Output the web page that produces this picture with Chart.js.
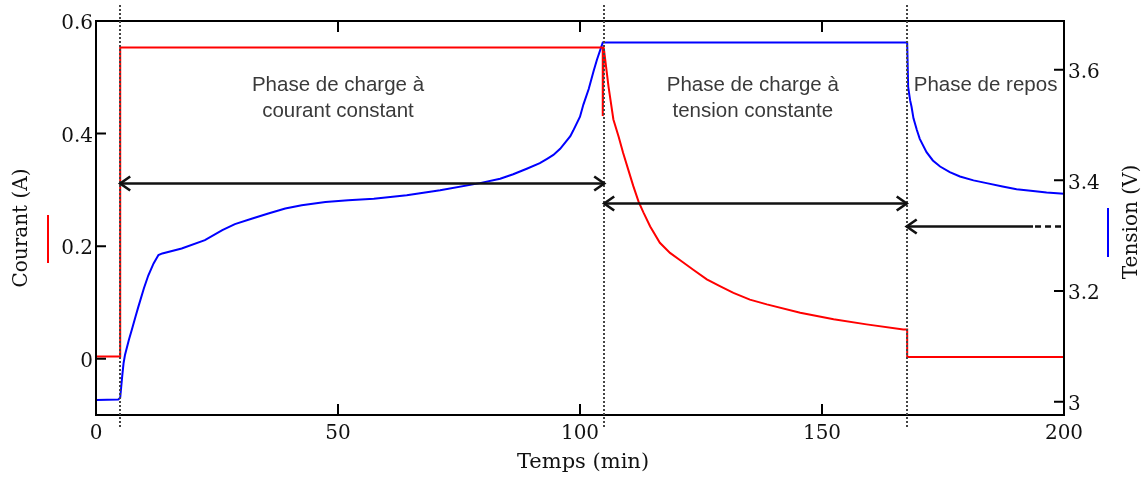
<!DOCTYPE html>
<html><head><meta charset="utf-8">
<script src="https://cdn.jsdelivr.net/npm/chart.js@4/dist/chart.umd.min.js"></script>
<style>html,body{margin:0;padding:0;background:#fff}</style>
</head><body>
<canvas id="c" width="1145" height="479"></canvas>
<script>
// ---- Data ----
const tempsCourant = [0, 5, 5, 104.7, 104.7, 104.9, 105.9, 106.9, 108, 108.9, 110, 111, 112.1, 113.1, 114.5, 116.5, 118.6, 120.7, 123.4, 126.2, 128.9, 131.7, 135.1, 138.6, 145.5, 152.4, 159.2, 166.8, 167.6, 167.6, 200];
const courant      = [0.004, 0.004, 0.553, 0.553, 0.431, 0.553, 0.483, 0.425, 0.394, 0.366, 0.335, 0.307, 0.279, 0.26, 0.235, 0.206, 0.188, 0.175, 0.158, 0.141, 0.129, 0.117, 0.105, 0.0965, 0.0818, 0.07, 0.061, 0.052, 0.052, 0.003, 0.003];
const tempsTension = [0, 4.6, 5.0, 5.4, 5.7, 6, 6.8, 7.4, 8.2, 8.7, 9.9, 10.8, 11.9, 12.9, 13.7, 17.7, 22.5, 26.1, 28.7, 32.3, 35.6, 39.1, 42.5, 47.4, 52.1, 57.4, 64.2, 71.1, 79.3, 83.5, 86.2, 89, 91.7, 93.2, 94.5, 95.9, 98.0, 98.6, 100, 100.7, 101.8, 102.8, 103.5, 104.7,
                      167.6, 167.8, 168.2, 168.5, 168.9, 169.6, 170.2, 171.6, 172.9, 174.4, 176.4, 178.5, 181.3, 184, 187.3, 190.2, 193.6, 196.4, 200];
const tension      = [3.003, 3.004, 3.007, 3.045, 3.070, 3.085, 3.112, 3.130, 3.155, 3.170, 3.205, 3.228, 3.250, 3.265, 3.268, 3.277, 3.292, 3.310, 3.321, 3.331, 3.340, 3.349, 3.355, 3.361, 3.364, 3.367, 3.373, 3.382, 3.395, 3.403, 3.411, 3.421, 3.431, 3.439, 3.446, 3.457, 3.480, 3.490, 3.515, 3.537, 3.565, 3.597, 3.618, 3.649,
                      3.649, 3.569, 3.545, 3.533, 3.512, 3.491, 3.475, 3.451, 3.436, 3.425, 3.415, 3.407, 3.400, 3.395, 3.389, 3.384, 3.381, 3.378, 3.376];
const xTicks = [0, 50, 100, 150, 200];
const courantTicks = [0, 0.2, 0.4, 0.6];
const tensionTicks = [3, 3.2, 3.4, 3.6];
const phaseLimits = [5, 105, 167.5];
const phaseTexts = [["Phase de charge à", "courant constant"], ["Phase de charge à", "tension constante"], ["Phase de repos"]];
const xTitle = "Temps (min)";
const yTitle = "Courant (A)";
const y1Title = "Tension (V)";

const serif = "'DejaVu Serif', serif";
const sans = "'Liberation Sans', Arial, sans-serif";

const decor = {
  id: 'decor',
  afterDatasetsDraw(chart) {
    const ctx = chart.ctx, a = chart.chartArea;
    const X = chart.scales.x, Y = chart.scales.y, Y1 = chart.scales.y1;
    ctx.save();
    // frame
    ctx.strokeStyle = '#000'; ctx.lineWidth = 2;
    ctx.strokeRect(a.left, a.top, a.right - a.left, a.bottom - a.top);
    // inner ticks
    ctx.beginPath();
    xTicks.forEach(v => {
      const px = X.getPixelForValue(v);
      ctx.moveTo(px, a.bottom); ctx.lineTo(px, a.bottom - 11);
      ctx.moveTo(px, a.top); ctx.lineTo(px, a.top + 11);
    });
    courantTicks.forEach(v => {
      const py = Y.getPixelForValue(v);
      ctx.moveTo(a.left, py); ctx.lineTo(a.left + 10, py);
    });
    tensionTicks.forEach(v => {
      const py = Y1.getPixelForValue(v);
      ctx.moveTo(a.right, py); ctx.lineTo(a.right - 10, py);
    });
    ctx.stroke();
    // phase dotted lines
    ctx.strokeStyle = '#444'; ctx.lineWidth = 2; ctx.setLineDash([2, 2]);
    phaseLimits.forEach(v => {
      const px = Math.round(X.getPixelForValue(v));
      ctx.beginPath(); ctx.moveTo(px, a.top - 16); ctx.lineTo(px, a.bottom + 13); ctx.stroke();
    });
    ctx.setLineDash([]);
    // arrows
    const head = (x, y, dir) => {
      ctx.beginPath();
      ctx.moveTo(x - dir * 10, y - 7); ctx.lineTo(x, y); ctx.lineTo(x - dir * 10, y + 7);
      ctx.stroke();
    };
    ctx.strokeStyle = '#111'; ctx.lineWidth = 2.6; ctx.lineCap = 'butt'; ctx.lineJoin = 'miter';
    const arrow = (t0, t1, val, startHead, endHead) => {
      const x0 = X.getPixelForValue(t0), x1 = X.getPixelForValue(t1), y = Math.round(Y.getPixelForValue(val)) + 0.5;
      ctx.beginPath(); ctx.moveTo(x0, y); ctx.lineTo(x1, y); ctx.stroke();
      if (startHead) head(x0, y, -1);
      if (endHead) head(x1, y, 1);
    };
    arrow(phaseLimits[0], phaseLimits[1], 0.313, true, true);
    arrow(phaseLimits[1], phaseLimits[2], 0.276, true, true);
    arrow(phaseLimits[2], 193.6, 0.236, true, false);
    {
      const y = Math.round(Y.getPixelForValue(0.236)) + 0.5;
      ctx.setLineDash([6, 4]);
      ctx.beginPath(); ctx.moveTo(X.getPixelForValue(193.6) + 2, y); ctx.lineTo(X.getPixelForValue(199.6), y); ctx.stroke();
      ctx.setLineDash([]);
    }
    // phase texts
    ctx.fillStyle = '#3a3a3a'; ctx.font = '20.5px ' + sans; ctx.textAlign = 'center'; ctx.textBaseline = 'alphabetic';
    const centers = [50, 135.7, 183.8];
    phaseTexts.forEach((lines, i) => {
      const cx = X.getPixelForValue(centers[i]);
      lines.forEach((s, j) => ctx.fillText(s, cx, a.top + 70 + j * 25.5));
    });
    // axis titles
    ctx.fillStyle = '#111';
    ctx.font = '21px ' + serif; ctx.textAlign = 'center'; ctx.textBaseline = 'middle';
    ctx.fillText(xTitle, (a.left + a.right) / 2 + 3, 463);
    ctx.font = '20px ' + serif;
    ctx.save(); ctx.translate(22, 228); ctx.rotate(-Math.PI / 2); ctx.fillText(yTitle, 0, 0); ctx.restore();
    ctx.save(); ctx.translate(1132, 222); ctx.rotate(-Math.PI / 2); ctx.fillText(y1Title, 0, 0); ctx.restore();
    // legend marks beside titles
    ctx.lineWidth = 2;
    ctx.strokeStyle = '#ff0000'; ctx.beginPath(); ctx.moveTo(48, 215); ctx.lineTo(48, 263); ctx.stroke();
    ctx.strokeStyle = '#0000ff'; ctx.beginPath(); ctx.moveTo(1108, 208); ctx.lineTo(1108, 257); ctx.stroke();
    ctx.restore();
  }
};

const tickFont = { family: serif, size: 20 };
new Chart(document.getElementById('c'), {
  type: 'line',
  data: {
    datasets: [
      { label: yTitle, data: tempsCourant.map((t, i) => ({ x: t, y: courant[i] })), yAxisID: 'y',
        borderColor: '#ff0000', borderWidth: 2, pointRadius: 0, tension: 0, fill: false },
      { label: y1Title, data: tempsTension.map((t, i) => ({ x: t, y: tension[i] })), yAxisID: 'y1',
        borderColor: '#0000ff', borderWidth: 2, pointRadius: 0, tension: 0, fill: false }
    ]
  },
  options: {
    responsive: false, animation: false, devicePixelRatio: 1,
    layout: { padding: { top: 21, right: 0, bottom: 0, left: 0 } },
    plugins: { legend: { display: false }, tooltip: { enabled: false } },
    scales: {
      x: {
        type: 'linear', min: 0, max: 200,
        afterBuildTicks: s => { s.ticks = xTicks.map(v => ({ value: v })); },
        afterFit: s => { s.height = 64; },
        grid: { display: false, drawTicks: false }, border: { display: false },
        ticks: { padding: 7, font: tickFont, color: '#111', maxRotation: 0, autoSkip: false, callback: v => String(v) }
      },
      y: {
        position: 'left', min: -0.1, max: 0.6,
        afterBuildTicks: s => { s.ticks = courantTicks.map(v => ({ value: v })); },
        afterFit: s => { s.width = 96; },
        grid: { display: false, drawTicks: false }, border: { display: false },
        ticks: { padding: 3, labelOffset: 3, font: tickFont, color: '#111', autoSkip: false, callback: v => String(v) }
      },
      y1: {
        position: 'right', min: 2.976, max: 3.688,
        afterBuildTicks: s => { s.ticks = tensionTicks.map(v => ({ value: v })); },
        afterFit: s => { s.width = 81; },
        grid: { display: false, drawTicks: false }, border: { display: false },
        ticks: { padding: 4, labelOffset: 3, font: tickFont, color: '#111', autoSkip: false, callback: v => String(v) }
      }
    }
  },
  plugins: [decor]
});
</script>
</body></html>
